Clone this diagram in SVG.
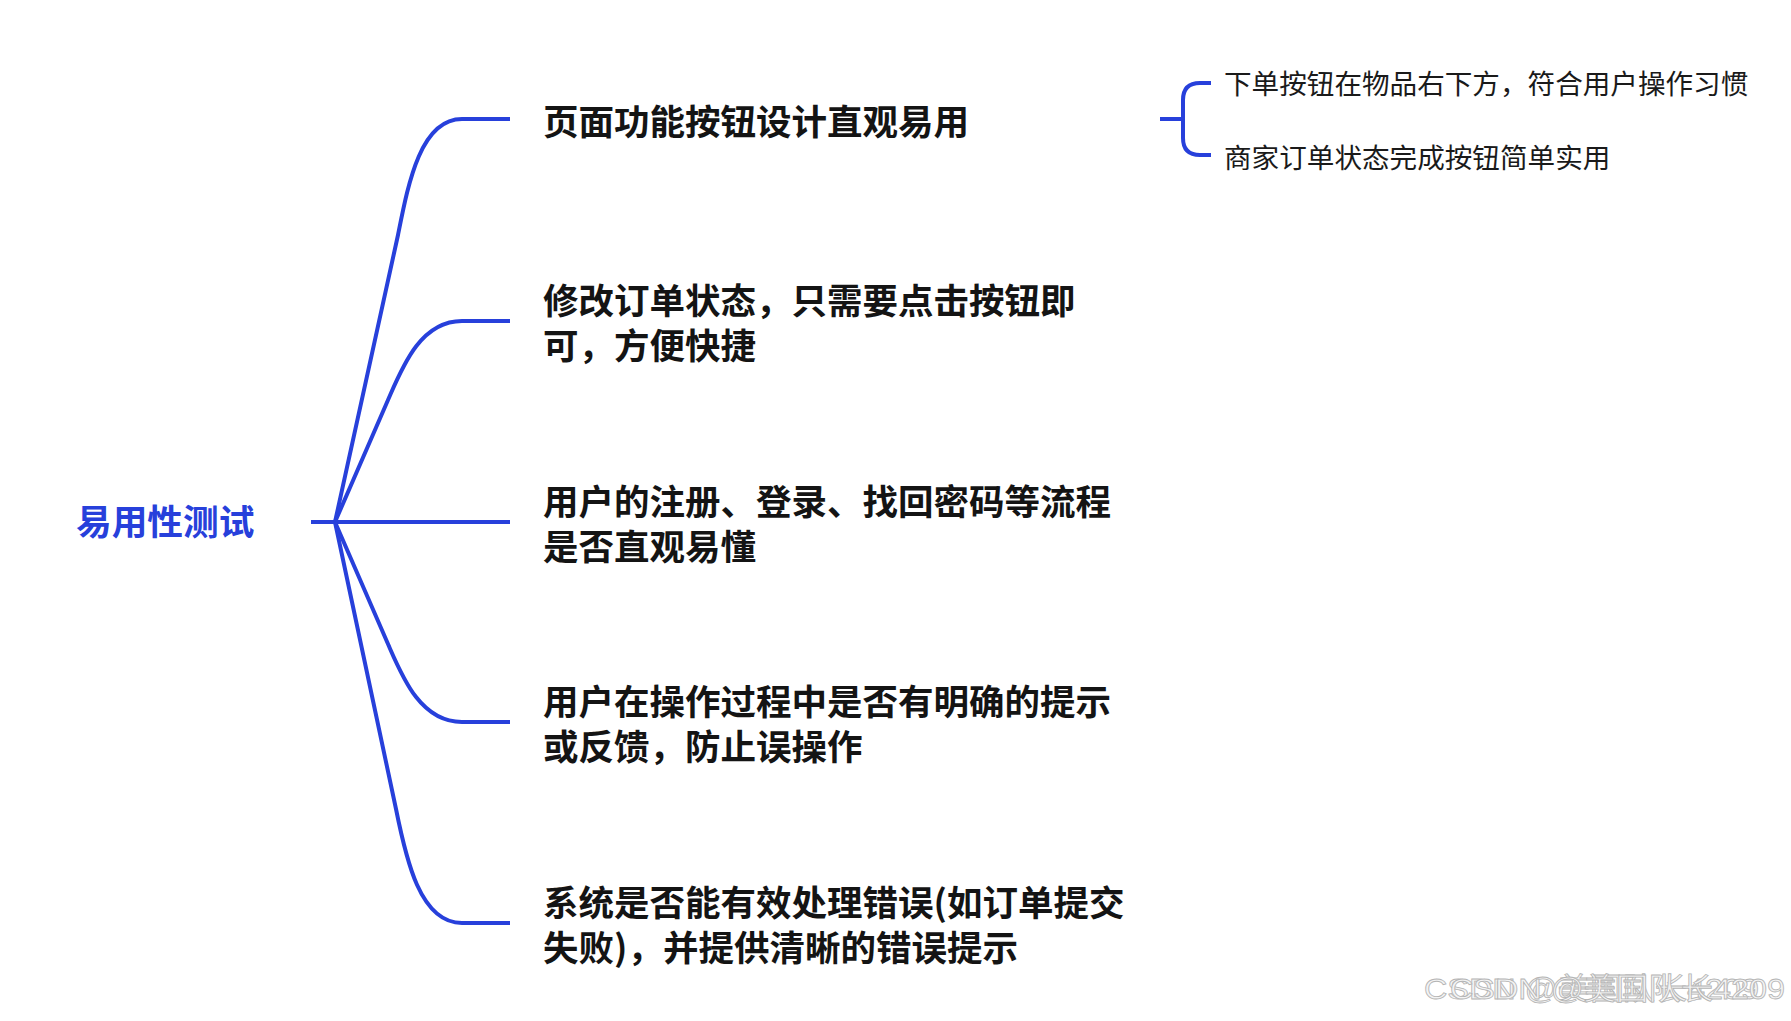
<svg xmlns="http://www.w3.org/2000/svg" width="1791" height="1021" viewBox="0 0 1791 1021">
<style>
.line{fill:none;stroke:#2740db;stroke-width:4;stroke-linecap:butt}
.root{font-family:"Noto Sans CJK SC","Noto Sans",sans-serif;font-size:35.7px;font-weight:700;fill:#2740db}
.topic{font-family:"Noto Sans CJK SC","Noto Sans",sans-serif;font-size:35.5px;font-weight:700;fill:#141414}
.sub{font-family:"Noto Sans CJK SC","Noto Sans",sans-serif;font-size:27.6px;font-weight:400;fill:#1a1a1a}
.wm{font-family:"Liberation Sans","Noto Sans CJK SC",sans-serif;font-size:30px;fill:#f3f3f3;stroke:#b4b4b4;stroke-width:0.8}
</style>
<rect width="1791" height="1021" fill="#ffffff"/>
<g id="connectors">
<path class="line" d="M311,522 L337,522"/>
<path class="line" d="M335,522 L398,235 C408,185 420,119 462,119 L510,119"/>
<path class="line" d="M335,522 L388,400 C402,368 420,321 462,321 L510,321"/>
<path class="line" d="M335,522 L510,522"/>
<path class="line" d="M335,522 L388,644 C402,676 420,722 462,722 L510,722"/>
<path class="line" d="M335,522 L396,809 C406,859 420,923 462,923 L510,923"/>
<path class="line" d="M1160,119 L1183,119"/>
<path class="line" d="M1211,83 L1200,83 Q1183,83 1183,100 L1183,138 Q1183,155 1200,155 L1211,155"/>
</g>
<g id="root"><text class="root" x="76" y="534.5">易用性测试</text></g>
<g id="n1"><text class="topic" x="543" y="134.5">页面功能按钮设计直观易用</text></g>
<g id="n2"><text class="topic"><tspan x="543" y="314">修改订单状态，只需要点击按钮即</tspan><tspan x="543" y="359">可，方便快捷</tspan></text></g>
<g id="n3"><text class="topic"><tspan x="543" y="514.5">用户的注册、登录、找回密码等流程</tspan><tspan x="543" y="559.5">是否直观易懂</tspan></text></g>
<g id="n4"><text class="topic"><tspan x="543" y="714.5">用户在操作过程中是否有明确的提示</tspan><tspan x="543" y="759.5">或反馈，防止误操作</tspan></text></g>
<g id="n5"><text class="topic"><tspan x="543" y="915.5">系统是否能有效处理错误(如订单提交</tspan><tspan x="543" y="960.5">失败)，并提供清晰的错误提示</tspan></text></g>
<g id="n1a"><text class="sub" x="1224" y="94.2">下单按钮在物品右下方，符合用户操作习惯</text></g>
<g id="n1b"><text class="sub" x="1224" y="167.7">商家订单状态完成按钮简单实用</text></g>
<g id="watermark">
<text class="wm"><tspan x="1424" y="999" textLength="335" lengthAdjust="spacingAndGlyphs">CSDN @美国队长4209</tspan><tspan x="1450" y="999" textLength="335" lengthAdjust="spacingAndGlyphs">CSDN @美国队长4209</tspan></text>
</g>
</svg>
